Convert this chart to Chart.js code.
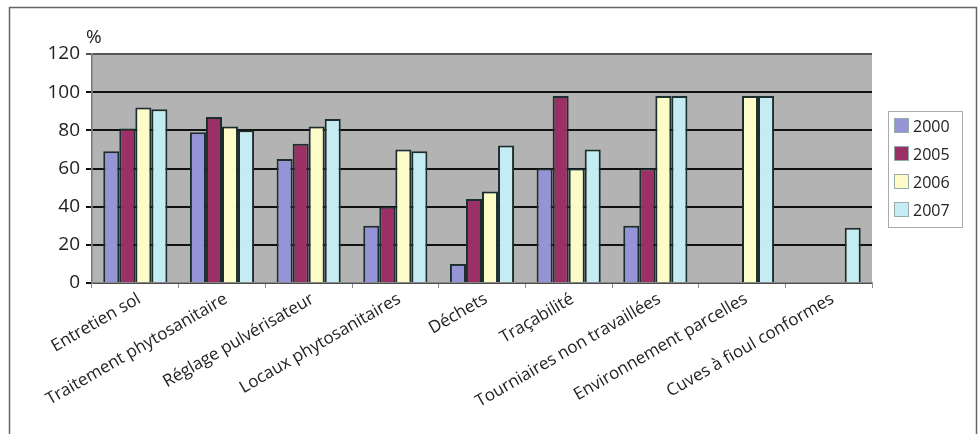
<!DOCTYPE html>
<html>
<head>
<meta charset="utf-8">
<script src="https://cdn.jsdelivr.net/npm/chart.js@4.4.0/dist/chart.umd.min.js"></script>
<style>
  html, body { margin: 0; padding: 0; background: #fff; }
  #wrap { width: 978px; height: 434px; position: relative; }
</style>
</head>
<body>
<div id="wrap"><canvas id="c" width="978" height="434"></canvas></div>
<script>
const categories = [
    'Entretien sol', 'Traitement phytosanitaire', 'Réglage pulvérisateur',
    'Locaux phytosanitaires', 'Déchets', 'Traçabilité',
    'Tourniaires non travaillées', 'Environnement parcelles', 'Cuves à fioul conformes'
];
const years = ['2000', '2005', '2006', '2007'];
const v2000 = [69, 79, 65, 30, 10, 60, 30, null, null];
const v2005 = [81, 87, 73, 40, 44, 98, 60, null, null];
const v2006 = [92, 82, 82, 70, 48, 60, 98, 98, null];
const v2007 = [91, 80, 86, 69, 72, 70, 98, 98, 29];
const yTicks = [0, 20, 40, 60, 80, 100, 120];

const colors = ['#9494d6', '#9b3066', '#fdfbc8', '#c6ecf3'];
const fontName = '"Open Sans", "DejaVu Sans", sans-serif';

// grey plot area, outer frame, "%" label, boxed legend
let decor = {
    id: 'decor',
    beforeDraw(chart) {
        let ctx = chart.ctx;
        let a = chart.chartArea;
        ctx.save();
        ctx.fillStyle = '#b3b3b3';
        ctx.fillRect(a.left, a.top, a.right - a.left, a.bottom - a.top);
        ctx.strokeStyle = '#666';
        ctx.lineWidth = 1.5;
        ctx.strokeRect(9.5, 7.5, 967, 440);
        ctx.restore();
    },
    afterDraw(chart) {
        let ctx = chart.ctx;
        let a = chart.chartArea;
        ctx.save();
        ctx.fillStyle = '#222';
        ctx.font = '19px ' + fontName;
        ctx.textBaseline = 'alphabetic';
        ctx.fillText('%', a.left - 6, a.top - 11);

        // legend
        let lx = a.right + 16, ly = a.top + 57, lw = 74, lh = 116;
        ctx.fillStyle = '#fff';
        ctx.fillRect(lx, ly, lw, lh);
        ctx.strokeStyle = '#aaa';
        ctx.lineWidth = 1;
        ctx.strokeRect(lx + 0.5, ly + 0.5, lw, lh);
        ctx.font = '16px ' + fontName;
        ctx.textBaseline = 'middle';
        chart.data.datasets.forEach((ds, i) => {
            let cy = ly + 15 + i * 28;
            ctx.fillStyle = ds.backgroundColor;
            ctx.fillRect(lx + 6, cy - 8, 15, 15);
            ctx.strokeStyle = '#9aa';
            ctx.strokeRect(lx + 6.5, cy - 7.5, 14, 14);
            ctx.fillStyle = '#222';
            ctx.fillText(ds.label, lx + 25, cy + 1);
        });
        ctx.restore();
    }
};

let datasets = [v2000, v2005, v2006, v2007].map((arr, i) => ({
    label: years[i],
    data: arr,
    backgroundColor: colors[i],
    borderColor: '#1b2d2d',
    borderWidth: 2,
    borderSkipped: 'bottom',
    categoryPercentage: 0.74,
    barPercentage: 1
}));

new Chart(document.getElementById('c'), {
    type: 'bar',
    data: { labels: categories, datasets: datasets },
    options: {
        responsive: false,
        animation: false,
        layout: { padding: { top: 54, right: 106, left: 0, bottom: 0 } },
        plugins: {
            legend: { display: false },
            tooltip: { enabled: false }
        },
        scales: {
            x: {
                afterFit(scale) { scale.height = 151; },
                grid: {
                    display: true,
                    drawOnChartArea: false,
                    offset: true,
                    color: '#888',
                    tickLength: 5
                },
                border: { color: '#888', width: 1.5 },
                ticks: {
                    maxRotation: 30,
                    minRotation: 30,
                    autoSkip: false,
                    color: '#222',
                    padding: 1,
                    labelOffset: 4,
                    font: { family: fontName, size: 17 }
                }
            },
            y: {
                min: 0,
                max: 120,
                afterFit(scale) { scale.width = 92; },
                afterBuildTicks(scale) { scale.ticks = yTicks.map(v => ({ value: v })); },
                grid: {
                    color: ctx => ctx.tick && ctx.tick.value === 120 ? '#555' : '#111',
                    lineWidth: 2,
                    tickLength: 6
                },
                border: { color: '#777', width: 1.5 },
                ticks: {
                    color: '#222',
                    padding: 6,
                    font: { family: fontName, size: 19 }
                }
            }
        }
    },
    plugins: [decor]
});
</script>
</body>
</html>
